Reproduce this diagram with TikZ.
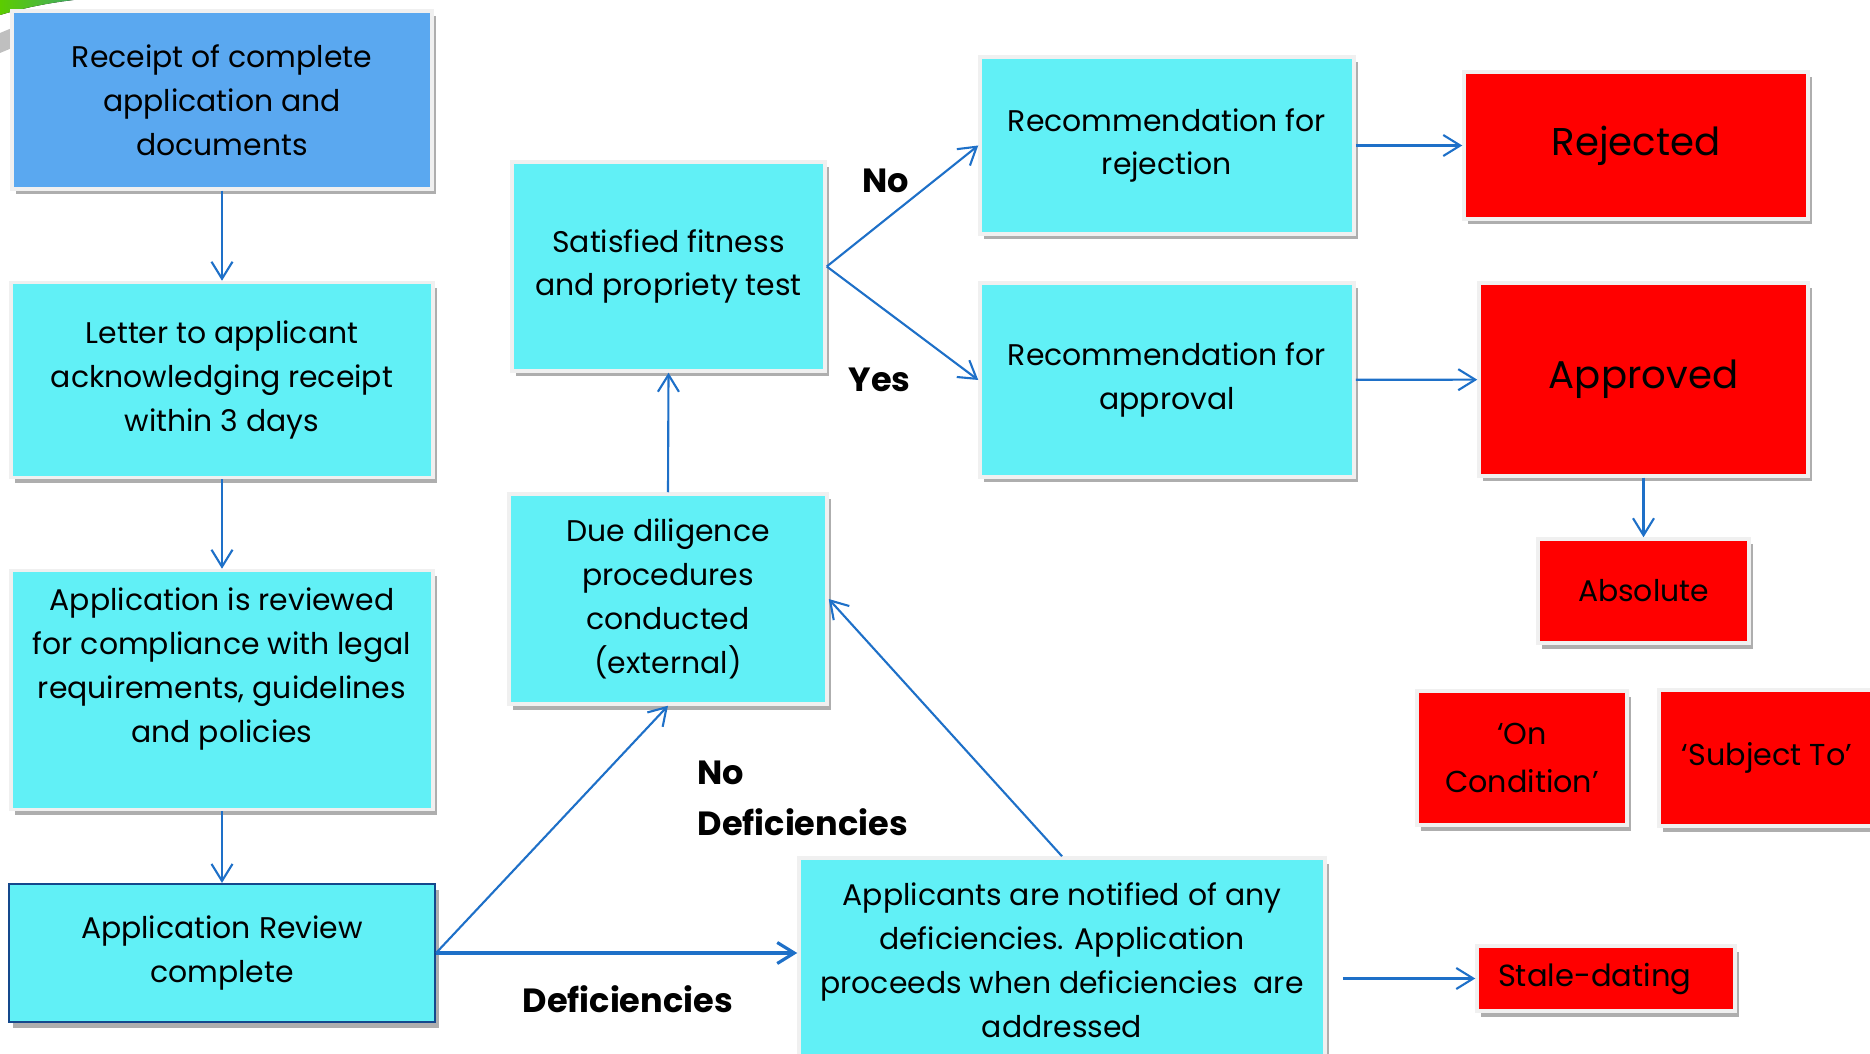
\documentclass[tikz,border=0pt]{standalone}
\usepackage{fontspec}
\setmainfont{Poppins}
\usetikzlibrary{positioning, arrows.meta, calc, shadows}
\definecolor{boxcyan}{RGB}{97,240,246}
\definecolor{boxblue}{RGB}{90,168,240}
\definecolor{boxred}{RGB}{255,0,0}
\definecolor{flowblue}{RGB}{30,112,200}
\definecolor{rimblue}{RGB}{20,72,140}

\begin{document}
\begin{tikzpicture}[>={Straight Barb[length=1.7mm, width=2.1mm]},
 font=\fontsize{8.5}{12.5}\selectfont,
 box/.style={rectangle, draw=black!6, line width=0.35mm, align=center, inner sep=0pt,
 drop shadow={shadow xshift=0.35mm, shadow yshift=-0.55mm, fill=black!70, opacity=0.45}},
 cyanbox/.style={box, fill=boxcyan},
 redbox/.style={box, fill=boxred},
 flow/.style={->, draw=flowblue, line width=0.6pt},
 lbl/.style={inner sep=0pt, font=\fontsize{9.55}{14.5}\selectfont\bfseries}]
 \useasboundingbox (0,0) rectangle (18.70,10.53);
 \clip (0,0) rectangle (18.70,10.53);
 % corner swoosh
 \fill[left color=green!55!yellow!80!black, right color=teal!80] (0,10.38) .. controls (0.4,10.50) and (0.8,10.55) .. (1.15,10.56) -- (0,10.56) -- cycle;
 \fill[black!25] (0,10.20) -- (0.12,10.25) -- (0.12,10.05) -- (0,10.00) -- cycle;
 % left column
 \node[box, fill=boxblue, minimum width=4.20cm, minimum height=1.78cm] (rcpt) at (2.22,9.53)
 {Receipt of complete\\application and\\documents};
 \node[cyanbox, minimum width=4.22cm, minimum height=1.95cm] (letter) at (2.22,6.73)
 {Letter to applicant\\acknowledging receipt\\within 3 days};
 \node[cyanbox, minimum width=4.22cm, minimum height=2.39cm] (rev) at (2.22,3.63) {};
 \node[align=center] (revtxt) at (2.22,3.84)
 {Application is reviewed\\for compliance with legal\\requirements, guidelines\\and policies};
 \node[cyanbox, draw=rimblue, line width=0.6pt, minimum width=4.26cm, minimum height=1.38cm] (done) at (2.22,1.00)
 {Application Review\\complete};
 % middle
 \node[cyanbox, minimum width=3.13cm, minimum height=2.09cm] (fit) at (6.685,7.865)
 {Satisfied fitness\\and propriety test};
 \node[cyanbox, minimum width=3.18cm, minimum height=2.10cm] (dd) at (6.68,4.54)
 {Due diligence\\procedures\\conducted\\(external)};
 \node[cyanbox, minimum width=5.26cm, minimum height=2.04cm] (notif) at (10.62,0.93)
 {Applicants are notified of any\\deficiencies. Application\\proceeds when deficiencies\ \ are\\addressed};
 \node[cyanbox, minimum width=3.74cm, minimum height=1.77cm] (recrej) at (11.67,9.075)
 {Recommendation for\\rejection};
 \node[cyanbox, minimum width=3.74cm, minimum height=1.94cm] (recapp) at (11.67,6.73)
 {Recommendation for\\approval};
 % outcomes
 \node[redbox, minimum width=3.44cm, minimum height=1.47cm, font=\fontsize{11}{14}\selectfont] (rej) at (16.36,9.075) {Rejected};
 \node[redbox, minimum width=3.29cm, minimum height=1.93cm, font=\fontsize{11}{14}\selectfont] (appr) at (16.435,6.735) {Approved};
 \node[redbox, minimum width=2.11cm, minimum height=1.04cm] (abs) at (16.435,4.62) {Absolute};
 \node[redbox, minimum width=2.10cm, minimum height=1.34cm, font=\fontsize{8.6}{13.5}\selectfont] (oncond) at (15.22,2.95) {‘On\\Condition’};
 \node[redbox, minimum width=2.16cm, minimum height=1.36cm, font=\fontsize{8.6}{13.5}\selectfont] (subj) at (17.67,2.95) {‘Subject To’};
 \node[redbox, text width=2.16cm, inner xsep=0.21cm, align=left, minimum height=0.65cm, font=\fontsize{8.7}{12}\selectfont] (stale) at (16.06,0.745) {Stale-dating};
 % labels
 \node[lbl, anchor=base west] (no) at (8.62,8.60) {No};
 \node[lbl, anchor=base west] (yes) at (8.48,6.61) {Yes};
 \node[lbl, anchor=west, align=left] (nodef) at (6.97,2.55) {No\\Deficiencies};
 \node[lbl, anchor=base west] (def) at (5.22,0.41) {Deficiencies};
 % connectors
 \draw[flow] (rcpt) -- (letter);
 \draw[flow] (letter) -- (rev);
 \draw[flow] (rev) -- (done);
 \draw[flow, line width=0.9pt] (done.east) -- (done.east -| notif.west);
 \draw[flow] (done.east) -- (dd.south);
 \draw[flow] (notif.north) -- (dd.east);
 \draw[flow] (dd.north) -- (fit.south);
 \draw[flow] (fit.east) -- (recrej.west);
 \draw[flow] (fit.east) -- (recapp.west);
 \draw[flow] (recrej) -- (rej);
 \draw[flow] (recapp) -- (appr);
 \draw[flow] (appr) -- (abs);
 \draw[flow, shorten <=1.6mm] (stale.west -| notif.east) -- (stale.west);
\end{tikzpicture}
\end{document}
